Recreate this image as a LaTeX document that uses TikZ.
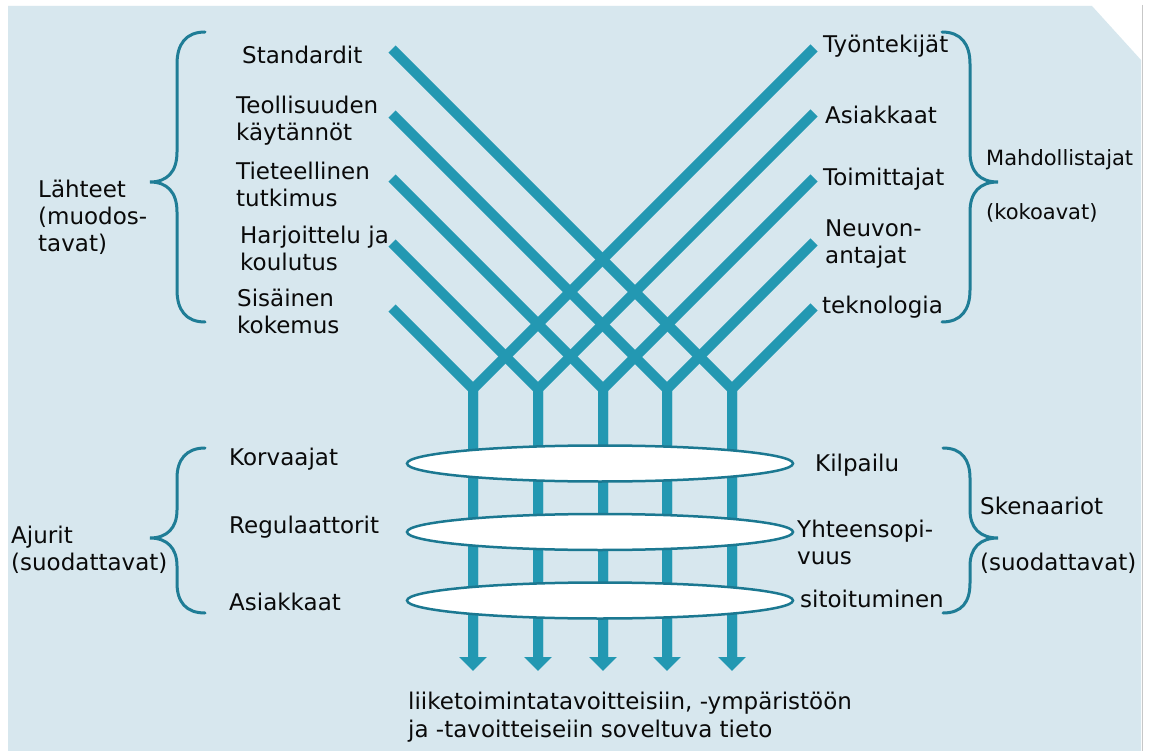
\documentclass[tikz,border=0pt]{standalone}
\usepackage{fontspec}
\setmainfont{DejaVu Sans}
\usetikzlibrary{arrows.meta,shapes.geometric,calc}
\definecolor{bgblue}{HTML}{D7E7EE}
\definecolor{flow}{HTML}{2398B2}
\definecolor{bracecol}{HTML}{1F7D96}
\definecolor{rim}{HTML}{1B7891}
\definecolor{ink}{HTML}{0A0A0A}

\begin{document}
\begin{tikzpicture}[x=1pt,y=-1pt,
  lbl/.style={anchor=west,inner sep=0pt,align=left,text=ink,
    font=\fontsize{23}{27}\selectfont},
  sidelbl/.style={anchor=west,inner sep=0pt,align=left,text=ink,
    font=\fontsize{21}{27}\selectfont},
  flowline/.style={draw=flow,line width=10pt,line join=miter},
  flowarrow/.style={flowline,-{Triangle[width=27pt,length=14pt]}},
  bracepath/.style={draw=bracecol,line width=3pt,line cap=round},
  filterring/.style={draw=rim,fill=white,line width=2.5pt,ellipse,
    inner sep=0pt,minimum width=386pt,minimum height=36pt}
]
\useasboundingbox (0,0) rectangle (1151,751);
% page and panel
\fill[white] (0,0) rectangle (1151,751);
\fill[bgblue] (8,6) -- (1092,6) -- (1141,60) -- (1141,751) -- (8,751) -- cycle;
\draw[black!22,line width=1.5pt] (1142.5,5) -- (1142.5,751);

% junctions, arrow ends and line starts
\foreach \k/\x in {1/473,2/538,3/603,4/667,5/732}{
  \coordinate (j\k) at (\x,389);
  \coordinate (e\k) at (\x,671);
}
\coordinate (ls1) at (392,308);
\coordinate (ls2) at (392,243);
\coordinate (ls3) at (392,178);
\coordinate (ls4) at (392,114);
\coordinate (ls5) at (392,49);
\coordinate (rs1) at (814,48);
\coordinate (rs2) at (814,113);
\coordinate (rs3) at (814,178);
\coordinate (rs4) at (814,242);
\coordinate (rs5) at (814,307);

% crossing flows merging into five streams
\foreach \k in {1,...,5}{
  \draw[flowline] (ls\k) -- (j\k) -- ($(e\k)+(0,-12)$);
  \draw[flowarrow] (rs\k) -- (j\k) -- (e\k);
}

% filters
\node[filterring] (f1) at (600,463.5) {};
\node[filterring] (f2) at (600,532) {};
\node[filterring] (f3) at (600,600.5) {};

% sources
\node[lbl] (standardit) at (242,55) {Standardit};
\node[lbl] (teoll) at (236,120.5) {Teollisuuden\\käytännöt};
\node[lbl] (tiet) at (236,184) {Tieteellinen\\tutkimus};
\node[lbl] (harj) at (240,248.5) {Harjoittelu ja\\koulutus};
\node[lbl] (sis) at (237,311) {Sisäinen\\kokemus};
\node[lbl] (lahteet) at (38,217) {Lähteet\\(muodos-\\tavat)};

% enablers
\node[lbl] (tyont) at (823,46) {Työntekijät};
\node[lbl] (asiak1) at (825,115) {Asiakkaat};
\node[lbl] (toim) at (823,179) {Toimittajat};
\node[lbl] (neuv) at (825,244) {Neuvon-\\antajat};
\node[lbl] (tekn) at (822,307) {teknologia};
\node[sidelbl] (mahd) at (986,160) {Mahdollistajat};
\node[sidelbl] (kokoa) at (986,213) {(kokoavat)};

% drivers
\node[lbl] (korv) at (229,459) {Korvaajat};
\node[lbl] (regul) at (229,527) {Regulaattorit};
\node[lbl] (asiak2) at (229,602) {Asiakkaat};
\node[lbl] (ajurit) at (11,550) {Ajurit\\(suodattavat)};

% scenarios
\node[lbl] (kilp) at (815,465) {Kilpailu};
\node[lbl] (yht) at (797,542) {Yhteensopi-\\vuus};
\node[lbl] (sito) at (800,599) {sitoituminen};
\node[lbl] (sken) at (980,506) {Skenaariot};
\node[lbl] (suod) at (980,563) {(suodattavat)};

% result
\node[lbl,font=\fontsize{23}{28}\selectfont] (tulos) at (408,717) {liiketoimintatavoitteisiin, -ympäristöön\\ja -tavoitteiseiin soveltuva tieto};

% braces
\draw[bracepath] (205,32) .. controls (186,32) and (177,44) .. (177,64)
  -- (177,152) .. controls (177,172) and (167,182) .. (150,182)
  .. controls (167,182) and (177,192) .. (177,212)
  -- (177,290) .. controls (177,310) and (186,322) .. (205,322);
\draw[bracepath] (942,32) .. controls (961,32) and (970,44) .. (970,64)
  -- (970,152) .. controls (970,172) and (980,182) .. (998,182)
  .. controls (980,182) and (970,192) .. (970,212)
  -- (970,290) .. controls (970,310) and (961,322) .. (942,322);
\draw[bracepath] (205,448) .. controls (186,448) and (177,460) .. (177,478)
  -- (177,510) .. controls (177,528) and (167,538) .. (150,538)
  .. controls (167,538) and (177,548) .. (177,566)
  -- (177,583) .. controls (177,602) and (186,613) .. (205,613);
\draw[bracepath] (943,448) .. controls (962,448) and (970,460) .. (970,478)
  -- (970,510) .. controls (970,528) and (980,538) .. (998,538)
  .. controls (980,538) and (970,548) .. (970,566)
  -- (970,583) .. controls (970,602) and (962,613) .. (943,613);
\end{tikzpicture}
\end{document}
